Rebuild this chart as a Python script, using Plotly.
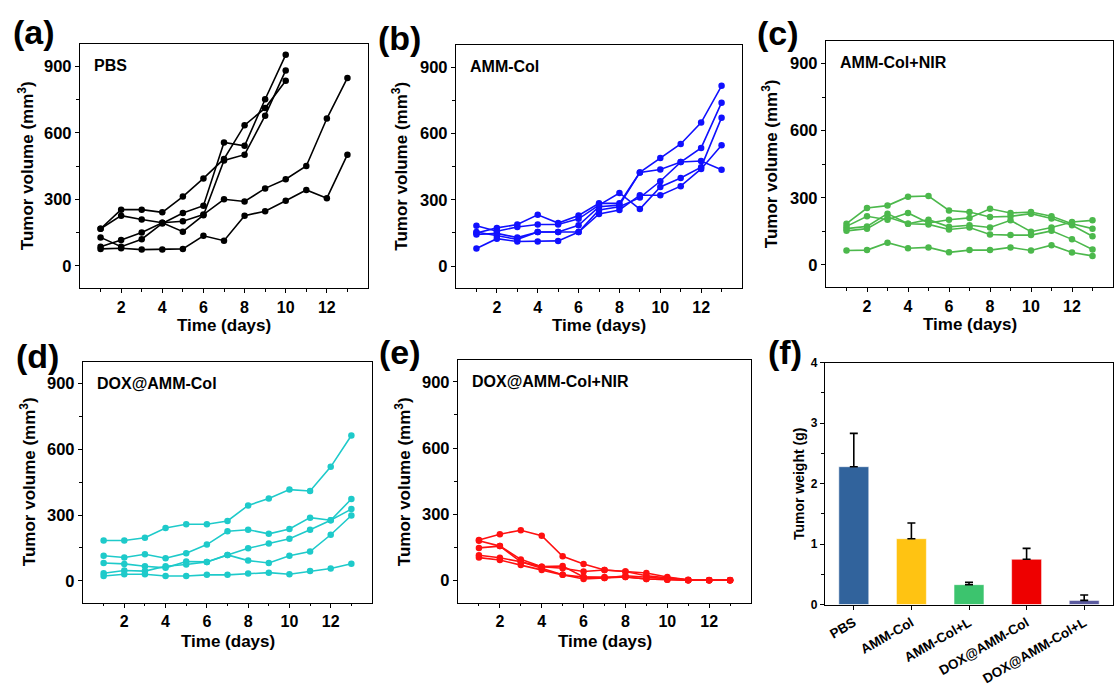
import plotly.graph_objects as go

W, H = 1118, 690
DAYS = list(range(1, 14))

# ---------------- data ----------------
# (a) PBS
pbs_a = [168, 254, 254, 242, 313, 395, 483, 635, 712, 835]
pbs_b = [168, 227, 210, 195, 155, 229, 476, 502, 678, 882]
pbs_c = [129, 87, 121, 192, 239, 272, 557, 542, 752, 952]
pbs_d = [87, 117, 151, 195, 202, 232, 301, 291, 350, 391, 451, 665, 848]
pbs_e = [77, 80, 74, 74, 77, 136, 114, 227, 247, 294, 343, 306, 502]

# (b) AMM-Col
amm_a = [150, 173, 188, 232, 195, 229, 284, 284, 424, 489, 553, 650, 816]
amm_b = [183, 158, 177, 188, 188, 214, 276, 331, 258, 358, 399, 448, 672]
amm_c = [143, 148, 129, 154, 154, 185, 269, 276, 424, 437, 471, 476, 436]
amm_d = [154, 136, 121, 154, 154, 154, 254, 269, 310, 384, 471, 535, 740]
amm_e = [80, 124, 111, 111, 114, 154, 236, 254, 321, 321, 362, 440, 547]

# (c) AMM-Col+NIR
ammn_a = [184, 254, 265, 305, 308, 243, 236, 214, 217, 229, 207, 177, 128]
ammn_b = [172, 217, 202, 232, 187, 202, 210, 251, 232, 236, 217, 184, 162]
ammn_c = [162, 172, 229, 184, 202, 170, 177, 167, 199, 148, 167, 192, 199]
ammn_d = [152, 162, 214, 184, 181, 158, 167, 136, 133, 133, 152, 114, 69]
ammn_e = [64, 66, 99, 74, 78, 56, 66, 66, 78, 64, 88, 55, 40]

# (d) DOX@AMM-Col
dox_a = [184, 184, 196, 241, 258, 258, 273, 344, 375, 416, 410, 520, 663]
dox_b = [114, 106, 121, 103, 126, 165, 226, 233, 214, 236, 288, 276, 327]
dox_c = [81, 77, 66, 59, 88, 86, 118, 148, 170, 192, 233, 276, 373]
dox_d = [34, 47, 44, 66, 74, 86, 118, 92, 81, 114, 133, 210, 298]
dox_e = [22, 30, 30, 22, 22, 27, 27, 33, 37, 30, 44, 56, 78]

# (e) DOX@AMM-Col+NIR
doxn_a = [184, 210, 228, 203, 110, 75, 48, 41, 34, 16, 4, 3, 3]
doxn_b = [180, 156, 96, 63, 66, 16, 12, 16, 7, 4, 2, 2, 2]
doxn_c = [148, 156, 85, 56, 26, 7, 12, 22, 16, 7, 2, 2, 2]
doxn_d = [115, 103, 85, 63, 56, 41, 48, 41, 22, 12, 3, 2, 2]
doxn_e = [104, 93, 70, 48, 26, 16, 16, 16, 7, 4, 2, 2, 2]

# (f) tumor weight
groups = ["PBS", "AMM-Col", "AMM-Col+L", "DOX@AMM-Col", "DOX@AMM-Col+L"]
weights = [2.28, 1.09, 0.33, 0.75, 0.07]
weight_err = [0.55, 0.26, 0.04, 0.18, 0.09]

vol_ticks = [0, 300, 600, 900]
day_ticks = [2, 4, 6, 8, 10, 12]

# ---------------- style ----------------
FONT = "Liberation Sans, Arial, sans-serif"
bar_colors = ["#31639c", "#ffc312", "#3cc46e", "#ee0000", "#5a5a9e"]

panels = [
    dict(lab="(a)", name="PBS", color="#000000",
         series=[pbs_a, pbs_b, pbs_c, pbs_d, pbs_e],
         box=(80, 38, 368, 287), labpos=(34, 26), ytx=26, xty=325),
    dict(lab="(b)", name="AMM-Col", color="#1010ff",
         series=[amm_a, amm_b, amm_c, amm_d, amm_e],
         box=(456, 39, 742, 287), labpos=(399, 32), ytx=400, xty=325),
    dict(lab="(c)", name="AMM-Col+NIR", color="#4cb84c",
         series=[ammn_a, ammn_b, ammn_c, ammn_d, ammn_e],
         box=(826, 35, 1113, 286), labpos=(778, 27), ytx=770, xty=324),
    dict(lab="(d)", name="DOX@AMM-Col", color="#1ecaca",
         series=[dox_a, dox_b, dox_c, dox_d, dox_e],
         box=(83, 362, 372, 608), labpos=(37, 356), ytx=28, xty=648),
    dict(lab="(e)", name="DOX@AMM-Col+NIR", color="#ff1010",
         series=[doxn_a, doxn_b, doxn_c, doxn_d, doxn_e],
         box=(458, 360, 751, 608), labpos=(400, 352), ytx=403, xty=648),
]


def xd(l, r):
    return [l / W, r / W]


def yd(t, b):
    return [1 - b / H, 1 - t / H]


fig = go.Figure()
annotations = []
layout_axes = {}

for i, p in enumerate(panels, start=1):
    xa = "x" if i == 1 else f"x{i}"
    ya = "y" if i == 1 else f"y{i}"
    for s in p["series"]:
        fig.add_trace(go.Scatter(
            x=DAYS[:len(s)], y=s, mode="lines+markers",
            line=dict(color=p["color"], width=1.6),
            marker=dict(color=p["color"], size=6.5, symbol="circle"),
            xaxis=xa, yaxis=ya, showlegend=False, hoverinfo="x+y"))
    l, t, r, b = p["box"]
    xkey = "xaxis" if i == 1 else f"xaxis{i}"
    ykey = "yaxis" if i == 1 else f"yaxis{i}"
    layout_axes[xkey] = dict(
        domain=xd(l, r), anchor=ya, range=[0, 14],
        tickvals=day_ticks, ticks="outside", ticklen=4, tickwidth=1.3,
        tickcolor="black", showline=True, mirror=True, linecolor="black",
        linewidth=1.4, showgrid=False, zeroline=False,
        tickfont=dict(family=FONT, size=16, color="black", weight="bold"),
        minor=dict(tickvals=[1, 3, 5, 7, 9, 11, 13], ticks="outside",
                   ticklen=2.5, tickcolor="black", showgrid=False),
    )
    layout_axes[ykey] = dict(
        domain=yd(t, b), anchor=xa, range=[-100, 1000],
        tickvals=vol_ticks, ticks="outside", ticklen=4, tickwidth=1.3,
        tickcolor="black", showline=True, mirror=True, linecolor="black",
        linewidth=1.4, showgrid=False, zeroline=False,
        tickfont=dict(family=FONT, size=16.5, color="black", weight="bold"),
        minor=dict(tickvals=[150, 450, 750], ticks="outside",
                   ticklen=2.5, tickcolor="black", showgrid=False),
    )
    annotations.append(dict(text=p["lab"], x=p["labpos"][0] / W, y=1 - p["labpos"][1] / H,
                            xref="paper", yref="paper", showarrow=False,
                            xanchor="center", yanchor="middle",
                            font=dict(family=FONT, size=34, color="black", weight="bold")))
    annotations.append(dict(text=p["name"], x=(l + 12) / W, y=1 - (t + 22) / H,
                            xref="paper", yref="paper", showarrow=False,
                            xanchor="left", yanchor="middle",
                            font=dict(family=FONT, size=16, color="black", weight="bold")))
    annotations.append(dict(text="Tumor volume (mm<sup>3</sup>)", x=p["ytx"] / W,
                            y=1 - ((t + b) / 2) / H, xref="paper", yref="paper",
                            showarrow=False, textangle=-90, xanchor="center", yanchor="middle",
                            font=dict(family=FONT, size=17, color="black", weight="bold")))
    annotations.append(dict(text="Time (days)", x=(l + r) / 2 / W, y=1 - p["xty"] / H,
                            xref="paper", yref="paper", showarrow=False,
                            xanchor="center", yanchor="middle",
                            font=dict(family=FONT, size=17, color="black", weight="bold")))

# ---------------- panel (f) ----------------
fig.add_trace(go.Bar(
    x=groups, y=weights, width=0.52,
    marker=dict(color=bar_colors, line=dict(color="rgba(255,255,255,0.55)", width=1)),
    error_y=dict(type="data", symmetric=False, array=weight_err,
                 arrayminus=[0] * len(weight_err), color="black",
                 thickness=1.6, width=4),
    xaxis="x6", yaxis="y6", showlegend=False))

fl, ft, fr, fb = 825, 363, 1113, 610
layout_axes["xaxis6"] = dict(
    domain=xd(fl, fr), anchor="y6", range=[-0.5, 4.5],
    ticks="outside", ticklen=4, tickwidth=1.3, tickcolor="black",
    tickangle=-30, showline=True, mirror=True, linecolor="black", linewidth=1.4,
    showgrid=False, zeroline=False,
    tickfont=dict(family=FONT, size=13.5, color="black", weight="bold"))
layout_axes["yaxis6"] = dict(
    domain=yd(ft, fb), anchor="x6", range=[0, 4],
    tickvals=[0, 1, 2, 3, 4], ticks="outside", ticklen=4, tickwidth=1.3,
    tickcolor="black", showline=True, mirror=True, linecolor="black", linewidth=1.4,
    showgrid=False, zeroline=False,
    tickfont=dict(family=FONT, size=12, color="black", weight="bold"),
    minor=dict(tickvals=[0.5, 1.5, 2.5, 3.5], ticks="outside", ticklen=2.5,
               tickcolor="black", showgrid=False))
annotations.append(dict(text="(f)", x=785 / W, y=1 - 352 / H, xref="paper", yref="paper",
                        showarrow=False, xanchor="center", yanchor="middle",
                        font=dict(family=FONT, size=34, color="black", weight="bold")))
annotations.append(dict(text="Tumor weight (g)", x=799 / W, y=1 - 487 / H,
                        xref="paper", yref="paper", showarrow=False, textangle=-90,
                        xanchor="center", yanchor="middle",
                        font=dict(family=FONT, size=14, color="black", weight="bold")))

fig.update_layout(
    width=W, height=H, margin=dict(l=0, r=0, t=0, b=0),
    paper_bgcolor="white", plot_bgcolor="white",
    annotations=annotations, showlegend=False, bargap=0.48,
    font=dict(family=FONT, color="black"),
    **layout_axes)

fig.write_html("out.html")
